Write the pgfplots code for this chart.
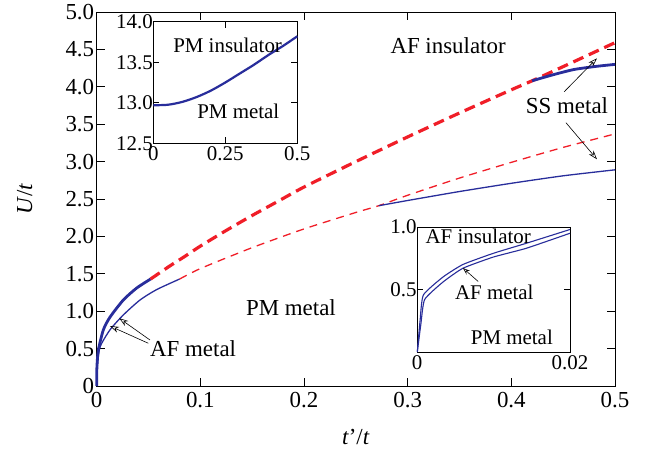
\documentclass[border=0pt]{standalone}
\usepackage{fontspec}
\setmainfont{Liberation Serif}
\usepackage{pgfplots}
\pgfplotsset{compat=1.18}
\usetikzlibrary{arrows.meta}

\definecolor{pblue}{RGB}{40,45,155}
\definecolor{pred}{RGB}{240,30,40}
\newcommand{\bigfont}{\fontsize{23}{27}\selectfont\rmfamily}
\newcommand{\smallfont}{\fontsize{21}{25}\selectfont\rmfamily}

% phase boundaries U_c/t versus t'/t
\pgfplotstableread{
x y
0      0
0.0002 0.25
0.0016 0.48
0.0064 0.75
0.0128 0.92
0.0257 1.15
0.0386 1.31
0.052  1.43
}\afupper
\pgfplotstableread{
x y
0.052  1.43
0.07   1.60
0.0836 1.72
0.1    1.87
0.125  2.08
0.15   2.28
0.175  2.47
0.2    2.66
0.25   3.00
0.3    3.33
0.35   3.65
0.4    3.96
0.42   4.08
0.45   4.27
0.5    4.59
}\insupper
\pgfplotstableread{
x y
0.42 4.08
0.44 4.16
0.46 4.23
0.48 4.27
0.5  4.30
}\ssupper
\pgfplotstableread{
x y
0      0
0.0005 0.25
0.0032 0.52
0.0128 0.75
0.0257 0.95
0.0418 1.15
0.058  1.29
0.080  1.43
}\aflower
\pgfplotstableread{
x y
0.080 1.43
0.1   1.57
0.15  1.85
0.2   2.10
0.25  2.32
0.272 2.41
0.3   2.55
0.35  2.78
0.4   2.99
0.45  3.19
0.5   3.37
}\inslower
\pgfplotstableread{
x y
0.272 2.41
0.3   2.48
0.35  2.60
0.4   2.71
0.45  2.81
0.5   2.89
}\sslower
% PM metal / PM insulator boundary
\pgfplotstableread{
x y
0    12.97
0.05 12.975
0.1  13.01
0.15 13.07
0.2  13.15
0.25 13.25
0.3  13.36
0.35 13.47
0.4  13.59
0.45 13.70
0.5  13.82
}\pmins
% AF metal window at small t'/t
\pgfplotstableread{
x y
0.00004 0
0.0004  0.25
0.00083 0.456
0.0034  0.60
0.006   0.70
0.01    0.79
0.0143  0.87
0.02    0.98
}\afinsup
\pgfplotstableread{
x y
0.00004 0
0.0005  0.22
0.001   0.42
0.0034  0.56
0.006   0.67
0.01    0.76
0.0143  0.83
0.02    0.95
}\afinslo

\pgfplotsset{
  phase/.style={
    scale only axis,
    axis line style={line width=0.8bp},
    tick align=inside,
    tick style={line width=0.8bp, black},
    xtick pos=both, ytick pos=both,
    xticklabel pos=bottom, yticklabel pos=left,
    scaled ticks=false,
    /pgf/number format/assume math mode=true,
    clip=false,
  },
}

\begin{document}
\begin{tikzpicture}
\useasboundingbox (0,0) rectangle (655bp,450bp);

\begin{axis}[phase,
  at={(96.7bp,64bp)}, anchor=south west,
  width=518.3bp, height=374bp,
  xmin=0, xmax=0.5, ymin=0, ymax=5,
  xtick={0,0.1,0.2,0.3,0.4,0.5},
  xticklabels={\textrm{0},\textrm{0.1},\textrm{0.2},\textrm{0.3},\textrm{0.4},\textrm{0.5}},
  ytick={0,0.5,1,1.5,2,2.5,3,3.5,4,4.5,5},
  yticklabels={\textrm{0},\textrm{0.5},\textrm{1.0},\textrm{1.5},\textrm{2.0},\textrm{2.5},\textrm{3.0},\textrm{3.5},\textrm{4.0},\textrm{4.5},\textrm{5.0}},
  major tick length=8bp,
  tick label style={font=\bigfont},
  xticklabel style={yshift=-3bp},
  yticklabel style={xshift=1bp},
  xlabel={\textit{t}’/\textit{t}},
  ylabel={\textit{U}/\textit{t}},
  label style={font=\bigfont},
  xlabel style={at={(axis description cs:0.5,0)}, anchor=center, yshift=-51bp},
  ylabel style={at={(axis description cs:-0.139,0.5)}, anchor=center},
]
\addplot[pblue, line width=2.8bp, smooth, tension=0.4] table {\afupper};
\addplot[pred, line width=3.2bp, dash pattern=on 11bp off 6bp, smooth, tension=0.4] table {\insupper};
\addplot[pblue, line width=2.8bp, smooth, tension=0.4] table {\ssupper};
\addplot[pblue, line width=1.3bp, smooth, tension=0.4] table {\aflower};
\addplot[pred, line width=1.3bp, dash pattern=on 8bp off 6bp, smooth, tension=0.4] table {\inslower};
\addplot[pblue, line width=1.3bp, smooth, tension=0.4] table {\sslower};

\node[font=\bigfont] at (axis cs:0.093,0.50) {AF metal};
\node[font=\bigfont] at (axis cs:0.1874,1.043) {PM metal};
\node[font=\bigfont] at (axis cs:0.339,4.545) {AF insulator};
\node[font=\bigfont, fill=white, inner sep=1bp] at (axis cs:0.4537,3.743) {SS metal};
\draw[-{Stealth[length=9bp,width=6bp,open]}, line width=0.6bp] (axis cs:0.0514,0.615) -- (axis cs:0.0218,0.905);
\draw[-{Stealth[length=9bp,width=6bp,open]}, line width=0.6bp] (axis cs:0.0498,0.571) -- (axis cs:0.0128,0.802);
\draw[-{Stealth[length=9bp,width=6bp,open]}, line width=0.6bp] (axis cs:0.451,3.934) -- (axis cs:0.4826,4.381);
\draw[-{Stealth[length=9bp,width=6bp,open]}, line width=0.6bp] (axis cs:0.4527,3.52) -- (axis cs:0.4826,3.031);
\end{axis}

% inset: PM metal / PM insulator
\begin{axis}[phase,
  at={(153.3bp,306.7bp)}, anchor=south west,
  width=144bp, height=121.6bp,
  axis background/.style={fill=white},
  xmin=0, xmax=0.5, ymin=12.5, ymax=14,
  xtick={0,0.25,0.5}, xticklabels={\textrm{0},\textrm{0.25},\textrm{0.5}},
  ytick={12.5,13,13.5,14}, yticklabels={\textrm{12.5},\textrm{13.0},\textrm{13.5},\textrm{14.0}},
  major tick length=6bp,
  tick label style={font=\smallfont},
  yticklabel style={xshift=3bp},
]
\addplot[pblue, line width=2.2bp, smooth, tension=0.5] table {\pmins};
\node[font=\smallfont] at (axis cs:0.258,13.71) {PM insulator};
\node[font=\smallfont] at (axis cs:0.295,12.89) {PM metal};
\end{axis}

% inset: AF metal window
\begin{axis}[phase,
  at={(417bp,98bp)}, anchor=south west,
  width=153bp, height=125bp,
  axis background/.style={fill=white},
  xmin=0, xmax=0.02, ymin=0, ymax=1,
  xtick={0,0.02}, xticklabels={\textrm{0},\textrm{0.02}},
  ytick={0.5,1}, yticklabels={\textrm{0.5},\textrm{1.0}},
  major tick length=6bp,
  tick label style={font=\smallfont},
  yticklabel style={xshift=3bp},
]
\addplot[pblue, line width=1.1bp, smooth, tension=0.3] table {\afinsup};
\addplot[pblue, line width=1.1bp, smooth, tension=0.3] table {\afinslo};
\node[font=\smallfont] at (axis cs:0.0080,0.924) {AF insulator};
\node[font=\smallfont] at (axis cs:0.0101,0.48) {AF metal};
\node[font=\smallfont] at (axis cs:0.0124,0.12) {PM metal};
\draw[-{Stealth[length=7bp,width=5bp,open]}, line width=0.6bp] (axis cs:0.0080,0.564) -- (axis cs:0.0060,0.672);
\end{axis}
\end{tikzpicture}
\end{document}
